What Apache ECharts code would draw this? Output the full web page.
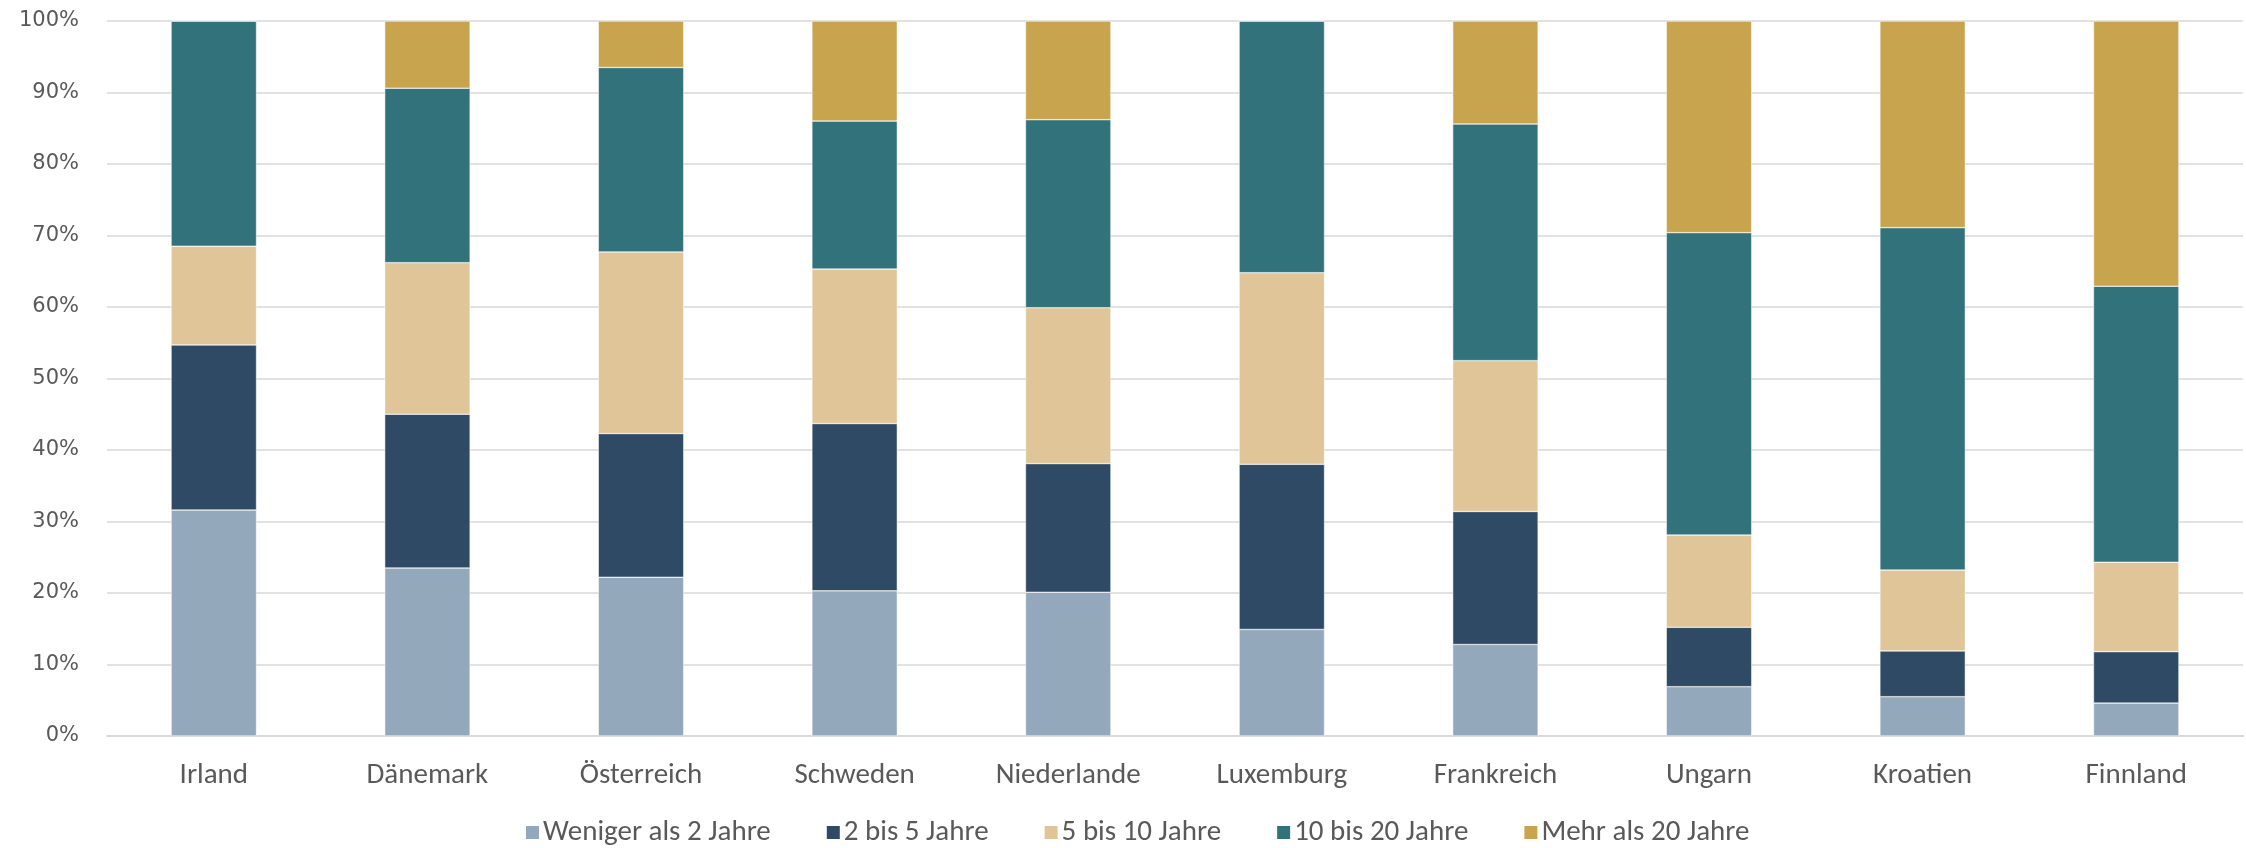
<!DOCTYPE html>
<html>
<head>
<meta charset="utf-8">
<script src="https://cdn.jsdelivr.net/npm/echarts@6/dist/echarts.min.js"></script>
<style>
  html, body { margin: 0; padding: 0; background: #fff; }
  #chart { width: 2246px; height: 848px; }
</style>
</head>
<body>
<div id="chart"></div>
<script>
// Länder (x-Achse)
const countries = ['Irland', 'Dänemark', 'Österreich', 'Schweden', 'Niederlande',
                   'Luxemburg', 'Frankreich', 'Ungarn', 'Kroatien', 'Finnland'];

// Anteile je Dauerklasse in %
const lessThan2 = [31.6, 23.5, 22.2, 20.3, 20.1, 14.9, 12.8, 6.9, 5.5, 4.6];
const from2to5  = [23.1, 21.5, 20.1, 23.4, 18.0, 23.1, 18.6, 8.3, 6.4, 7.2];
const from5to10 = [13.8, 21.2, 25.4, 21.6, 21.8, 26.8, 21.1, 12.9, 11.3, 12.5];
const from10to20 = [31.5, 24.4, 25.8, 20.7, 26.3, 35.2, 33.1, 42.3, 47.9, 38.6];
const moreThan20 = [0, 9.4, 6.5, 14.0, 13.8, 0, 14.4, 29.6, 28.9, 37.1];

const seriesNames = ['Weniger als 2 Jahre', '2 bis 5 Jahre', '5 bis 10 Jahre',
                     '10 bis 20 Jahre', 'Mehr als 20 Jahre'];
const seriesData = [lessThan2, from2to5, from5to10, from10to20, moreThan20];
const colors = ['#94A8BC', '#2E4A64', '#E0C598', '#31727B', '#C9A44E'];

const labelFont = 'Carlito, "Liberation Sans Narrow", "Open Sans", sans-serif';

const chart = echarts.init(document.getElementById('chart'));
chart.setOption({
  animation: false,
  color: colors,
  grid: { left: 107, right: 3, top: 21, bottom: 112, containLabel: false },
  legend: {
    bottom: -4,
    left: 519,
    itemWidth: 15,
    itemHeight: 15,
    itemGap: 54,
    icon: 'rect',
    textStyle: { fontFamily: labelFont, fontSize: 29, color: '#595959', padding: [0, 0, 0, -2] },
    data: seriesNames
  },
  xAxis: {
    type: 'category',
    data: countries,
    axisLine: { lineStyle: { color: '#D9D9D9', width: 2 } },
    axisTick: { show: false },
    axisLabel: { fontFamily: labelFont, fontSize: 29, color: '#595959', margin: 25 }
  },
  yAxis: {
    type: 'value',
    min: 0,
    max: 100,
    interval: 10,
    axisLine: { show: false },
    axisTick: { show: false },
    splitLine: { lineStyle: { color: '#D9D9D9', width: 1.5 } },
    axisLabel: {
      formatter: '{value}%',
      fontFamily: '"DejaVu Sans", Verdana, sans-serif',
      fontSize: 21,
      color: '#595959',
      margin: 28
    }
  },
  series: seriesNames.map((name, i) => ({
    name,
    type: 'bar',
    stack: 'total',
    barWidth: '40%',
    itemStyle: { color: colors[i], borderColor: '#ffffff', borderWidth: 0.5 },
    data: seriesData[i]
  }))
});
</script>
</body>
</html>
